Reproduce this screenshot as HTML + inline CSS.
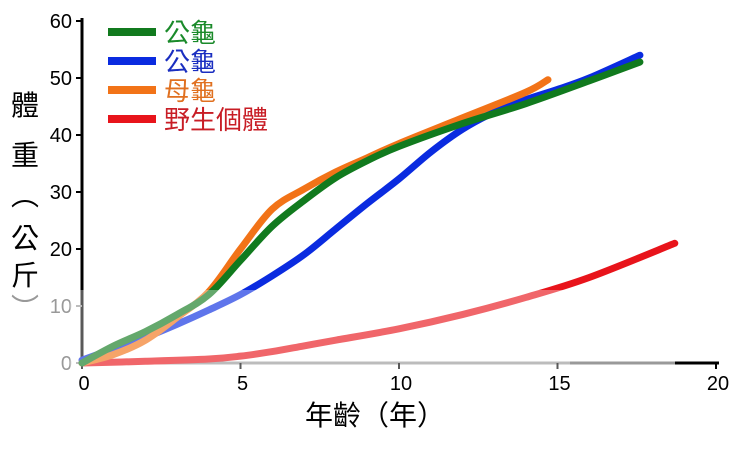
<!DOCTYPE html>
<html><head><meta charset="utf-8"><style>
body{margin:0;background:#fff;width:740px;height:449px;overflow:hidden}
text{font-family:"Liberation Sans","Noto Sans CJK TC",sans-serif}
</style></head><body>
<svg id="c" width="740" height="449"></svg>
<script>
const xTicks=[0,5,10,15,20];
const yTicks=[0,10,20,30,40,50,60];
const greenX=[0,1,2,3,4,5,6,7,8,9,10,12,14,16,17.6];
const greenY=[0,3,5.5,8.5,12,18,24,28.5,32.5,35.5,38,42,45.5,49.5,52.8];
const blueX=[0,1,2,3,4,5,6,7,8,9,10,11,12,13,14,15,16,17.6];
const blueY=[0.5,2.5,4.5,6.8,9.3,12,15.3,19,23.5,28,32.3,37,41,44,46.2,48,50,54];
const orangeX=[0,1,2,3,4,5,6,7,8,9,10,12,14,14.7];
const orangeY=[0,1.5,4,8,12.5,20,27,30.5,33.5,36,38.5,43,47.5,49.7];
const redX=[0,2,4,5,6,7,8,10,12,14,16,18.7];
const redY=[0,0.3,0.7,1.2,2,3,4,6,8.5,11.5,15,21];
const legendLabels=["公龜","公龜","母龜","野生個體"];
const colors=["#117a1e","#0a2be0","#f27318","#e8141b"];
const textColors=["#1a8a2a","#1a2ec0","#e07020","#c81d25"];
const X=v=>82+v*31.7, Y=v=>363-v*5.7;
const svg=document.getElementById('c');
const NS='http://www.w3.org/2000/svg';
function mk(t,a,p){const e=document.createElementNS(NS,t);for(const k in a)e.setAttribute(k,a[k]);(p||svg).appendChild(e);return e;}
let e=mk('line',{x1:82,y1:18,x2:82,y2:366,stroke:'#000','stroke-width':3});


e=mk('line',{x1:80,y1:363,x2:676,y2:363,stroke:'#999','stroke-width':3});


e=mk('line',{x1:675,y1:363,x2:719,y2:363,stroke:'#000','stroke-width':3});


yTicks.forEach(v=>{
 let t=mk('line',{x1:76,x2:82,y1:Y(v),y2:Y(v),stroke:v<=10?'#999':'#000','stroke-width':2});
 
 
 let l=mk('text',{x:72,y:Y(v)+7,'text-anchor':'end','font-size':20,fill:v<=10?'#999':'#000'});
 l.textContent=v;
 
 
});
xTicks.forEach(v=>{
 let t=mk('line',{x1:X(v),x2:X(v),y1:363,y2:369,stroke:'#000','stroke-width':2});
 
 
 let l=mk('text',{x:X(v)+2,y:390,'text-anchor':'middle','font-size':20,fill:'#000'});
 l.textContent=v;
 
 
});
let xt=mk('text',{x:375,y:425,'text-anchor':'middle','font-size':28,fill:'#000'});
xt.textContent='年齡（年）';


const yl=['體','重','︵','公','斤','︶'];
const yy=[115,165,205,248,285,318];
yl.forEach((ch,i)=>{let t=mk('text',{x:25,y:yy[i],'text-anchor':'middle','font-size':28,fill:i==5?'#999':'#000'});t.textContent=ch;
 
 });
function path(xs,ys){const p=xs.map((x,i)=>[X(x),Y(ys[i])]);let d='M'+p[0][0]+','+p[0][1];
 for(let i=0;i<p.length-1;i++){const p0=p[i-1]||p[i],p1=p[i],p2=p[i+1],p3=p[i+2]||p2;
  d+=` C${p1[0]+(p2[0]-p0[0])/6},${p1[1]+(p2[1]-p0[1])/6} ${p2[0]-(p3[0]-p1[0])/6},${p2[1]-(p3[1]-p1[1])/6} ${p2[0]},${p2[1]}`;}return d;}
const series=[[redX,redY,3,'red'],[blueX,blueY,1,'blue'],[orangeX,orangeY,2,'orange'],[greenX,greenY,0,'green']];
series.forEach(s=>{let p=mk('path',{d:path(s[0],s[1]),fill:'none',stroke:colors[s[2]],'stroke-width':7,'stroke-linecap':'round'});
 
 });
e=mk('rect',{x:70,y:290,width:500,height:80,fill:'#fff',opacity:0.35});


legendLabels.forEach((lab,i)=>{const y=32+i*29;
 let l=mk('line',{x1:108,x2:156,y1:y,y2:y,stroke:colors[i],'stroke-width':8});
 
 
 let t=mk('text',{x:164,y:y+10,'font-size':26,fill:textColors[i]});t.textContent=lab;
 
 });
</script>
</body></html>
